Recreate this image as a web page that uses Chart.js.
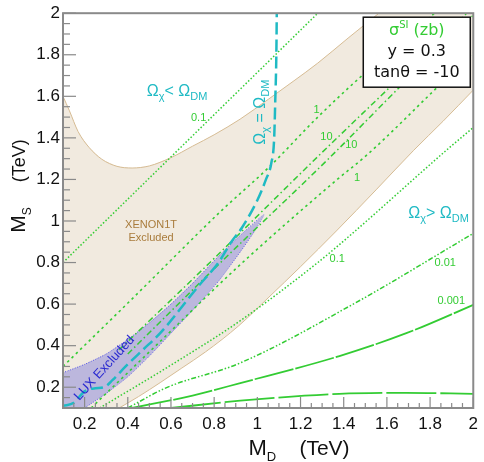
<!DOCTYPE html>
<html><head><meta charset="utf-8">
<script src="https://cdn.jsdelivr.net/npm/chart.js@4.4.1/dist/chart.umd.min.js"></script>
<style>html,body{margin:0;padding:0;background:#fff}#wrap{width:484px;height:462px}</style>
</head><body><div id="wrap"><canvas id="c" width="484" height="462"></canvas></div>
<script>
// ---- axis ticks ----
const xTickValues=[0.2,0.4,0.6,0.8,1,1.2,1.4,1.6,1.8,2];
const yTickValues=[0.2,0.4,0.6,0.8,1,1.2,1.4,1.6,1.8,2];
const minorStep=0.05;

// ---- XENON1T excluded region boundaries ----
const xenonUpX=[0.1,0.13,0.17,0.22,0.28,0.35,0.42,0.5,0.6,0.7,0.8,0.92,1.05,1.17,1.28,1.42,1.563];
const xenonUpY=[1.6,1.53,1.43,1.355,1.297,1.263,1.255,1.265,1.305,1.36,1.415,1.49,1.585,1.675,1.76,1.88,2.0];
const xenonLowX=[0.36,0.45,0.55,0.65,0.76,0.913,1.05,1.2,1.366,1.55,1.724,1.86,2.0];
const xenonLowY=[0.1,0.155,0.222,0.292,0.37,0.495,0.63,0.78,0.952,1.15,1.34,1.48,1.63];

// ---- LUX excluded region boundaries ----
const luxUpX=[0.1,0.2,0.3,0.4,0.5,0.6,0.7,0.82,0.92,1.03];
const luxUpY=[0.27,0.31,0.36,0.43,0.51,0.6,0.7,0.83,0.93,1.03];
const luxLowX=[0.2,0.3,0.4,0.5,0.6,0.7,0.82,0.92,0.98,1.03];
const luxLowY=[0.1,0.17,0.25,0.35,0.46,0.57,0.71,0.85,0.94,1.03];

// ---- relic density line Omega_chi = Omega_DM ----
const relicX=[0.1,0.15,0.2,0.25,0.29,0.33,0.39,0.47,0.55,0.73,0.82,0.88,0.93,1.0,1.04,1.065,1.078,1.083,1.088,1.09];
const relicY=[0.11,0.125,0.18,0.195,0.2,0.235,0.3,0.38,0.46,0.69,0.8,0.9,0.97,1.1,1.2,1.28,1.4,1.58,1.8,2.0];

// ---- sigma_SI contours (zb) ----
const s01aX=[0.1,0.4,0.7,1.0,1.28];            const s01aY=[0.8,1.105,1.41,1.715,2.0];
const s1aX=[0.1,0.415,0.834,1.05,1.28,1.485,1.82]; const s1aY=[0.3,0.62,1.05,1.255,1.5,1.7,2.0];
const s10aX=[0.36,0.8,1.28,1.63,1.97];           const s10aY=[0.38,0.82,1.31,1.66,2.0];
const s10bX=[0.4,0.8,1.34,1.655,2.0];            const s10bY=[0.36,0.77,1.31,1.64,1.99];
const s1bX=[0.23,0.5,0.921,1.37,1.51,1.83,2.0];  const s1bY=[0.1,0.37,0.79,1.2,1.32,1.64,1.81];
const s01bX=[0.27,0.59,0.921,1.28,1.44,1.875,2.0]; const s01bY=[0.1,0.3,0.52,0.8,0.94,1.34,1.45];
const s001X=[0.4,0.577,0.921,1.456,2.0];         const s001Y=[0.1,0.197,0.317,0.607,0.94];
const s0001X=[0.42,0.7,0.921,1.38,1.69,2.0];     const s0001Y=[0.1,0.16,0.22,0.35,0.46,0.596];
const s00001X=[0.6,0.921,1.38,1.69,2.0];         const s00001Y=[0.1,0.135,0.168,0.173,0.168];

// ---- contour labels ----
const contourLabels=['0.1','1','10','10','1','0.1','0.01','0.001'];
const contourLabelX=[0.728,1.274,1.32,1.435,1.462,1.37,1.87,1.898];
const contourLabelY=[1.495,1.534,1.404,1.365,1.207,0.817,0.798,0.615];

const GREEN='#33cc33', CYAN='#1fbac4';
const SANS='"Liberation Sans", Arial, sans-serif';

function pts(xs,ys){return xs.map((x,i)=>({x:x,y:ys[i]}));}
function lineDS(xs,ys,color,width,dash,extra){
  return Object.assign({showLine:true,data:pts(xs,ys),borderColor:color,borderWidth:width,borderDash:dash,
    pointRadius:0,pointHoverRadius:0,fill:false,cubicInterpolationMode:'monotone',order:1},extra||{});
}
const xenonPoly=[{x:0.1,y:0.1}].concat(pts(xenonUpX,xenonUpY),[{x:2,y:2}],pts(xenonLowX,xenonLowY).reverse(),[{x:0.1,y:0.1}]);
const luxPoly=[{x:0.1,y:0.1}].concat(pts(luxUpX,luxUpY),pts(luxLowX,luxLowY).reverse().slice(1),[{x:0.1,y:0.1}]);
const luxOutline=pts(luxUpX,luxUpY).concat(pts(luxLowX,luxLowY).reverse().slice(1));

const datasets=[
  {showLine:true,data:xenonPoly,fill:'shape',backgroundColor:'#f1eadf',borderColor:'rgba(0,0,0,0)',borderWidth:0,pointRadius:0,tension:0,order:20},
  lineDS(xenonUpX,xenonUpY,'#d6bc94',1,[], {order:19}),
  lineDS(xenonLowX,xenonLowY,'#d6bc94',1,[], {order:19}),
  {showLine:true,data:luxPoly,fill:'shape',backgroundColor:'rgba(170,165,220,0.75)',borderColor:'rgba(0,0,0,0)',borderWidth:0,pointRadius:0,tension:0,order:18},
  {showLine:true,data:luxOutline,fill:false,borderColor:'#5a5ae6',borderWidth:1,borderDash:[1,1.5],pointRadius:0,tension:0.2,order:17},
  lineDS(s01aX,s01aY,GREEN,1.5,[1.5,2]),
  lineDS(s1aX,s1aY,GREEN,1.6,[2.5,3.5]),
  lineDS(s10aX,s10aY,GREEN,1.5,[6,3,1.5,3]),
  lineDS(s10bX,s10bY,GREEN,1.5,[6,3,1.5,3]),
  lineDS(s1bX,s1bY,GREEN,1.6,[2.5,3.5]),
  lineDS(s01bX,s01bY,GREEN,1.5,[1.5,2]),
  lineDS(s001X,s001Y,GREEN,1.5,[5,2,1.5,2,1.5,2]),
  lineDS(s0001X,s0001Y,GREEN,1.8,[40,2]),
  lineDS(s00001X,s00001Y,GREEN,1.8,[50,4]),
  lineDS(relicX,relicY,CYAN,2.5,[12,5],{order:0})
];

function richText(ctx,segs,x,y,angle){
  ctx.save();ctx.translate(x,y);ctx.rotate(angle||0);
  let total=0;
  segs.forEach(s=>{ctx.font=s.size+'px '+(s.family||SANS);s.w=ctx.measureText(s.t).width;total+=s.w;});
  let cx=-total/2;ctx.textBaseline='alphabetic';ctx.textAlign='left';
  segs.forEach(s=>{ctx.font=s.size+'px '+(s.family||SANS);ctx.fillStyle=s.color;ctx.fillText(s.t,cx,s.dy||0);cx+=s.w;});
  ctx.restore();
}
function omega(op,color){
  return [{t:'\u03A9',size:16,color},{t:'\u03C7',size:11,dy:4,color},{t:op+'\u03A9',size:16,color},{t:'DM',size:11,dy:4,color}];
}

const decor={
  id:'decor',
  afterDatasetsDraw(chart){
    const ctx=chart.ctx, xs=chart.scales.x, ys=chart.scales.y, a=chart.chartArea;
    const X=v=>xs.getPixelForValue(v), Y=v=>ys.getPixelForValue(v);
    ctx.save();
    ctx.beginPath();ctx.rect(a.left,a.top,a.right-a.left,a.bottom-a.top);ctx.clip();
    ctx.font='11px '+SANS;ctx.fillStyle=GREEN;ctx.textAlign='center';ctx.textBaseline='middle';
    contourLabels.forEach((t,i)=>ctx.fillText(t,X(contourLabelX[i]),Y(contourLabelY[i])));
    ctx.fillStyle='#a97c3c';ctx.font='11px '+SANS;
    ctx.fillText('XENON1T',X(0.508),Y(0.98));
    ctx.fillText('Excluded',X(0.508),Y(0.918));
    ctx.save();ctx.translate(X(0.292),Y(0.292));ctx.rotate(-47.5*Math.PI/180);
    ctx.fillStyle='#2a2ad0';ctx.font='13px '+SANS;ctx.fillText('LUX Excluded',0,0);ctx.restore();
    richText(ctx,omega('< ',CYAN),X(0.628),Y(1.625)+5,0);
    richText(ctx,omega('> ',CYAN),X(1.839),Y(1.038)+5,0);
    richText(ctx,omega(' = ',CYAN),X(1.031)+1,Y(1.524),-Math.PI/2);
    const bx=a.right-110,by=a.top+4,bw=107,bh=70;
    ctx.fillStyle='#fff';ctx.fillRect(bx,by,bw,bh);
    ctx.strokeStyle='#111';ctx.lineWidth=1.5;ctx.strokeRect(bx,by,bw,bh);
    const dj='"DejaVu Sans", sans-serif';
    richText(ctx,[{t:'\u03C3',size:16,color:GREEN,family:dj},{t:'SI',size:10,dy:-7,color:GREEN,family:dj},{t:' (zb)',size:16,color:GREEN,family:dj}],bx+bw/2,by+18,0);
    richText(ctx,[{t:'y = 0.3',size:16,color:'#111',family:dj}],bx+bw/2,by+39,0);
    richText(ctx,[{t:'tan\u03B8 = -10',size:16,color:'#111',family:dj}],bx+bw/2,by+60,0);
    ctx.restore();
  },
  afterDraw(chart){
    const ctx=chart.ctx, xs=chart.scales.x, ys=chart.scales.y, a=chart.chartArea;
    ctx.save();
    ctx.strokeStyle='#8a8a8a';
    ctx.lineWidth=1.2;
    for(let v=0.1;v<=2.0001;v+=minorStep){
      const r=Math.round(v*100)/100;
      const major=Math.abs(r*5-Math.round(r*5))<1e-6;
      const px=xs.getPixelForValue(r), py=ys.getPixelForValue(r);
      const lx=major?11:5, ly=major?13:7;
      ctx.beginPath();ctx.moveTo(px,a.bottom);ctx.lineTo(px,a.bottom-lx);ctx.stroke();
      ctx.beginPath();ctx.moveTo(a.left,py);ctx.lineTo(a.left+ly,py);ctx.stroke();
    }
    ctx.lineWidth=2;ctx.strokeRect(a.left,a.top,a.right-a.left,a.bottom-a.top);
    richText(ctx,[{t:'M',size:22,color:'#111'},{t:'D',size:13,dy:6,color:'#111'},{t:'    (TeV)',size:21,color:'#111'}],299,455,0);
    richText(ctx,[{t:'M',size:21,color:'#111'},{t:'S',size:12,dy:6,color:'#111'},{t:'     (TeV)',size:18,color:'#111'}],25,186,-Math.PI/2);
    ctx.restore();
  }
};

new Chart(document.getElementById('c'),{
  type:'scatter',
  data:{datasets},
  options:{
    responsive:false,animation:false,devicePixelRatio:1,
    layout:{padding:{left:0,right:7,top:13,bottom:0}},
    plugins:{legend:{display:false},tooltip:{enabled:false}},
    scales:{
      x:{type:'linear',min:0.1,max:2,
        afterFit(s){s.height=54;},
        afterBuildTicks(s){s.ticks=xTickValues.map(v=>({value:v}));},
        grid:{display:false,drawTicks:false},border:{display:false},
        ticks:{padding:6,color:'#111',font:{family:SANS,size:17},callback:v=>String(v)}},
      y:{type:'linear',min:0.1,max:2,
        afterFit(s){s.width=63;},
        afterBuildTicks(s){s.ticks=yTickValues.map(v=>({value:v}));},
        grid:{display:false,drawTicks:false},border:{display:false},
        ticks:{padding:3,color:'#111',font:{family:SANS,size:17},callback:v=>String(v)}}
    }
  },
  plugins:[decor]
});
</script></body></html>
